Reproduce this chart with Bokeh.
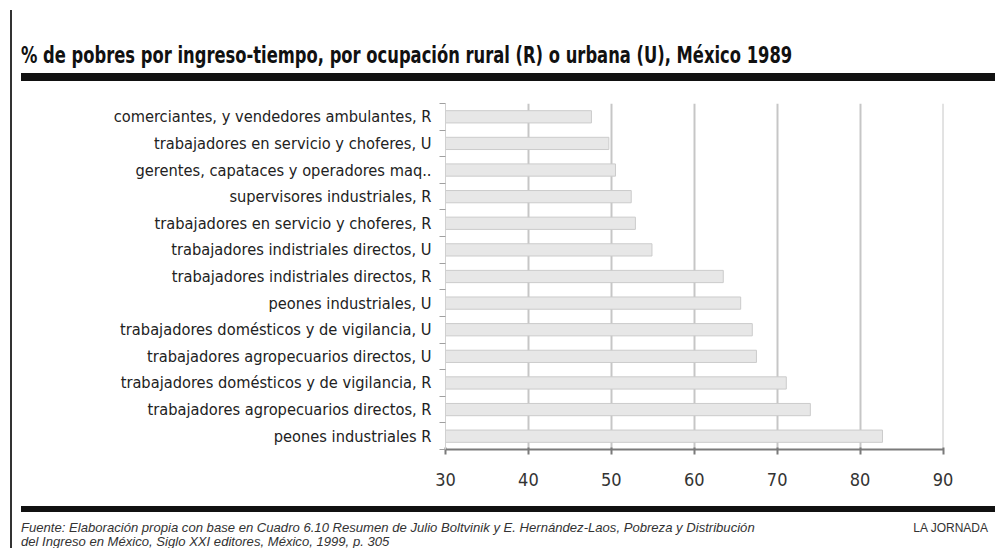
from bokeh.plotting import figure
from bokeh.models import FixedTicker, Range1d, ColumnDataSource, Div
from bokeh.layouts import row, column
from bokeh.embed import file_html
from bokeh.resources import INLINE

title_text = "% de pobres por ingreso-tiempo, por ocupación rural (R) o urbana (U), México 1989"

categories = [
    "comerciantes, y vendedores ambulantes, R",
    "trabajadores en servicio y choferes, U",
    "gerentes, capataces y operadores maq..",
    "supervisores industriales, R",
    "trabajadores en servicio y choferes, R",
    "trabajadores indistriales directos, U",
    "trabajadores indistriales directos, R",
    "peones industriales, U",
    "trabajadores domésticos y de vigilancia, U",
    "trabajadores agropecuarios directos, U",
    "trabajadores domésticos y de vigilancia, R",
    "trabajadores agropecuarios directos, R",
    "peones industriales R",
]
values = [47.6, 49.7, 50.5, 52.4, 52.9, 54.9, 63.5, 65.6, 67.0, 67.5, 71.1, 74.0, 82.7]
x_ticks = [30, 40, 50, 60, 70, 80, 90]

source_lines = [
    "Fuente: Elaboración propia con base en Cuadro 6.10 Resumen de Julio Boltvinik y E. Hernández-Laos, Pobreza y Distribución",
    "del Ingreso en México, Siglo XXI editores, México, 1999, p. 305",
]
brand = "LA JORNADA"

COND = "'DejaVu Sans Condensed', 'Noto Sans Condensed', 'Liberation Sans Narrow', Roboto, sans-serif"

# ---- left border strip
linediv = Div(text=('<div style="position:relative;width:12px;height:548px">'
                    '<div style="position:absolute;left:10px;top:10px;width:2px;height:538px;background:#333333"></div>'
                    '</div>'),
              width=12, height=548, margin=0)

# ---- header (title + thick rule)
header = Div(text=(
    '<div style="position:relative;width:986px;height:95px;overflow:hidden">'
    '<div style="position:absolute;left:9px;top:44px;white-space:nowrap;'
    "font-family:'DejaVu Sans Condensed','Liberation Sans',sans-serif;font-weight:bold;"
    'font-size:23px;line-height:23px;color:#111111;transform:scaleX(0.79);transform-origin:0 0">'
    + title_text + '</div>'
    '<div style="position:absolute;left:9px;top:73px;width:974px;height:8px;background:#111111"></div>'
    '</div>'), width=986, height=95, margin=0)

# ---- main chart
n = len(categories)
ypos = [n - i for i in range(n)]
src = ColumnDataSource(dict(y=ypos, v=values, cat=categories))

p = figure(width=986, height=405, output_backend="svg", toolbar_location=None,
           x_range=Range1d(x_ticks[0], x_ticks[-1] + 0.06), y_range=Range1d(0.5, n + 0.5),
           min_border_left=433, min_border_right=55, min_border_top=8, min_border_bottom=51)
p.outline_line_color = None
p.background_fill_color = "white"
p.border_fill_color = "white"

p.hbar(y="y", left=x_ticks[0], right="v", height=0.46, source=src,
       fill_color="#e7e7e7", line_color="#cbcbcb", line_width=1)

p.ygrid.visible = False
p.xgrid.ticker = FixedTicker(ticks=x_ticks[1:])
p.xgrid.grid_line_color = "#c6c6c6"
p.xgrid.grid_line_width = 2

xa = p.xaxis[0]
xa.ticker = FixedTicker(ticks=x_ticks, minor_ticks=[])
xa.bounds = (x_ticks[0], x_ticks[-1])
xa.axis_line_color = "#7a7a7a"
xa.axis_line_width = 2
xa.major_tick_line_color = "#7a7a7a"
xa.major_tick_line_width = 2
xa.major_tick_in = 2
xa.major_tick_out = 5
xa.minor_tick_line_color = None
xa.major_label_standoff = 18
xa.major_label_text_font = COND
xa.major_label_text_font_size = "18px"
xa.major_label_text_color = "#333333"

ya = p.yaxis[0]
ya.ticker = FixedTicker(ticks=ypos, minor_ticks=[k + 0.5 for k in range(n + 1)])
overrides = {}
for yy, c in zip(ypos, categories):
    overrides[yy] = c
    overrides[str(yy)] = c
ya.major_label_overrides = overrides
ya.axis_line_color = "#d0d0d0"
ya.axis_line_width = 1
ya.major_tick_line_color = None
ya.major_tick_out = 0
ya.major_tick_in = 0
ya.minor_tick_line_color = "#a0a0a0"
ya.minor_tick_out = 6
ya.minor_tick_in = 0
ya.minor_tick_line_width = 1
ya.major_label_standoff = 8
ya.major_label_text_font = COND
ya.major_label_text_font_size = "16.3px"
ya.major_label_text_color = "#222222"

# ---- footer (thick rule + source + brand)
footer = Div(text=(
    '<div style="position:relative;width:986px;height:48px;overflow:hidden">'
    '<div style="position:absolute;left:9px;top:6px;width:974px;height:6px;background:#111111"></div>'
    "<div style=\"position:absolute;left:9px;top:21px;white-space:nowrap;font-family:'Liberation Sans',Arial,sans-serif;"
    'font-style:italic;font-size:13.1px;line-height:13px;color:#333333">' + source_lines[0] + '</div>'
    "<div style=\"position:absolute;left:9px;top:35px;white-space:nowrap;font-family:'Liberation Sans',Arial,sans-serif;"
    'font-style:italic;font-size:13.1px;line-height:13px;color:#333333">' + source_lines[1] + '</div>'
    "<div style=\"position:absolute;right:10px;top:22px;white-space:nowrap;font-family:'Liberation Sans',Arial,sans-serif;"
    'font-size:12px;line-height:12px;color:#333333">' + brand + '</div>'
    '</div>'), width=986, height=48, margin=0)

layout = row(linediv, column(header, p, footer, spacing=0), spacing=0)
open("out.html", "w").write(file_html(layout, INLINE))
